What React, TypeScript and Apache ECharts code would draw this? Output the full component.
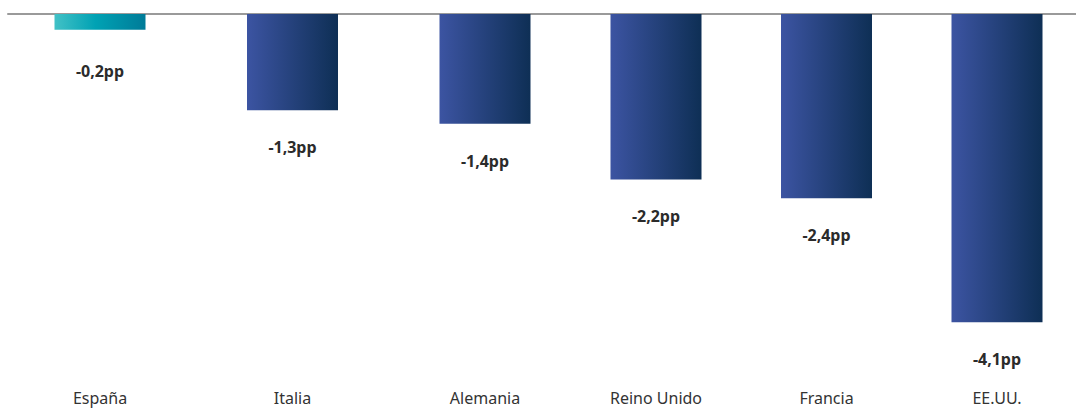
import React, { useEffect, useRef } from "react";
import * as echarts from "echarts";

const categories = ["España", "Italia", "Alemania", "Reino Unido", "Francia", "EE.UU."];
const values = [-0.21, -1.28, -1.46, -2.2, -2.45, -4.1];
const valueLabels = ["-0,2pp", "-1,3pp", "-1,4pp", "-2,2pp", "-2,4pp", "-4,1pp"];

const FONT = "'Noto Sans', sans-serif";

const tealGrad = new echarts.graphic.LinearGradient(0, 0, 1, 0, [
  { offset: 0, color: "#42c1c6" },
  { offset: 0.45, color: "#00a2b4" },
  { offset: 1, color: "#007b98" },
]);
const blueGrad = new echarts.graphic.LinearGradient(0, 0, 1, 0, [
  { offset: 0, color: "#3c54a2" },
  { offset: 1, color: "#0e2f55" },
]);

export default function App() {
  const ref = useRef<HTMLDivElement>(null);
  useEffect(() => {
    if (!ref.current) return;
    const chart = echarts.init(ref.current, null, { renderer: "svg" });
    const groups = [
      [0, 3],
      [3, 6],
    ];
    // two bar groups with their own spacing, plus one grid carrying the zero line
    const grids = [
      { left: 100, top: 14, width: 385, height: 376 },
      { left: 656, top: 14, width: 341, height: 376 },
      { left: 8, top: 14, right: 0, height: 376 },
    ];
    const xAxis: any[] = [];
    const yAxis: any[] = [];
    const series: any[] = [];
    groups.forEach(([a, b], gi) => {
      const cats = categories.slice(a, b);
      xAxis.push({
        type: "category",
        gridIndex: gi,
        data: cats,
        boundaryGap: false,
        position: "bottom",
        axisLine: { show: false, onZero: false },
        axisTick: { show: false },
        splitLine: { show: false },
        axisLabel: { color: "#333", fontSize: 16, fontFamily: FONT, margin: 0 },
      });
      yAxis.push({
        type: "value",
        gridIndex: gi,
        min: -5,
        max: 0,
        show: false,
        splitLine: { show: false },
      });
      series.push({
        type: "bar",
        xAxisIndex: gi,
        yAxisIndex: gi,
        barWidth: 91,
        z: 5,
        data: values.slice(a, b).map((v, i) => ({
          value: v,
          itemStyle: { color: a + i === 0 ? tealGrad : blueGrad },
          label: { formatter: valueLabels[a + i], distance: a + i === 0 ? 33 : 29 },
        })),
        label: {
          show: true,
          position: "bottom",
          distance: 29,
          color: "#2b2b2b",
          fontSize: 16,
          fontWeight: "bold",
          fontFamily: FONT,
        },
      });
    });
    xAxis.push({
      type: "category",
      gridIndex: 2,
      data: [""],
      position: "top",
      axisLine: { show: true, onZero: true, lineStyle: { color: "#9a9a9a", width: 2 } },
      axisTick: { show: false },
      axisLabel: { show: false },
      splitLine: { show: false },
    });
    yAxis.push({
      type: "value",
      gridIndex: 2,
      min: -5,
      max: 0,
      show: false,
      splitLine: { show: false },
    });
    chart.setOption({
      animation: false,
      grid: grids,
      xAxis,
      yAxis,
      series,
    });
    return () => chart.dispose();
  }, []);
  return (
    <div
      ref={ref}
      style={{ position: "absolute", left: 0, top: 0, width: 1076, height: 408 }}
    />
  );
}
